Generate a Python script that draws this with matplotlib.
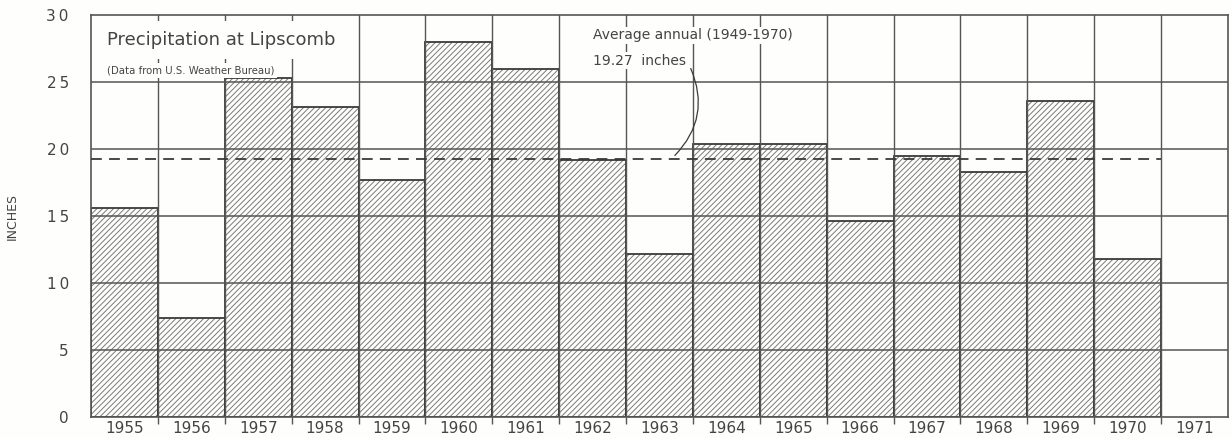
import numpy as np
import matplotlib
matplotlib.use('Agg')
import matplotlib.pyplot as plt

# Data
years = [1955, 1956, 1957, 1958, 1959, 1960, 1961, 1962, 1963,
         1964, 1965, 1966, 1967, 1968, 1969, 1970, 1971]
precip = [15.6, 7.4, 25.3, 23.1, 17.7, 28.0, 26.0, 19.2, 12.2,
          20.4, 20.4, 14.6, 19.5, 18.3, 23.6, 11.8, np.nan]
avg_annual = 19.27
y_ticks = [0, 5, 10, 15, 20, 25, 30]

ink = '#3a3a3a'
grid_c = '#555555'
txt_c = '#444444'
bg = '#fefefd'
plt.rcParams['font.family'] = ['DejaVu Sans']
plt.rcParams['hatch.linewidth'] = 0.7

fig = plt.figure(figsize=(12.32, 4.38), dpi=100, facecolor=bg)
ax = fig.add_axes([91 / 1232, 1 - 417 / 438, (1228 - 91) / 1232, (417 - 15) / 438])
ax.set_facecolor(bg)

x = np.array(years, dtype=float)
vals = np.array(precip, dtype=float)

# hatch layer
ax.bar(x, vals, width=1.0, facecolor='none', edgecolor='#7a7a7a',
       hatch='//////', linewidth=0, zorder=1)
# outline layer
ax.bar(x, vals, width=1.0, fill=False, edgecolor=ink, linewidth=1.3, zorder=2)

# grid
ax.set_xlim(years[0] - 0.5, years[-1] + 0.5)
ax.set_ylim(y_ticks[0], y_ticks[-1])
ax.set_yticks(y_ticks)
ax.set_yticklabels(['\u2009'.join(str(t)) for t in y_ticks], fontsize=11, color=txt_c)
ax.set_xticks(x)
ax.set_xticklabels([str(y) for y in years], fontsize=11, color=txt_c)
ax.set_xticks(x[:-1] + 0.5, minor=True)
ax.tick_params(axis='y', length=0, pad=16)
ax.tick_params(axis='x', which='major', length=0, pad=3)
ax.tick_params(axis='x', which='minor', length=5, width=1, color=grid_c)
for yt in y_ticks[1:-1]:
    ax.axhline(yt, color=grid_c, linewidth=1.1, zorder=3)
for xb in x[:-1] + 0.5:
    ax.axvline(xb, color=grid_c, linewidth=1.0, zorder=3)
for s in ax.spines.values():
    s.set_color(grid_c)
    s.set_linewidth(1.2)

# average line over 1955-1970
ax.hlines(avg_annual, years[0] - 0.5, years[-2] + 0.5, colors=ink,
          linestyles=(0, (6, 4)), linewidth=1.3, zorder=4)

ax.set_ylabel('INCHES', fontsize=9, color=txt_c, labelpad=20)

ax.text(0.014, 0.96, 'Precipitation at Lipscomb', transform=ax.transAxes,
        fontsize=13, color=txt_c, va='top', ha='left',
        bbox=dict(facecolor=bg, edgecolor='none', pad=7), zorder=5)
ax.text(0.014, 0.875, '(Data from U.S. Weather Bureau)', transform=ax.transAxes,
        fontsize=7.3, color=txt_c, va='top', ha='left',
        bbox=dict(facecolor=bg, edgecolor='none', pad=2), zorder=5)

ax.text(1962.0, 29.0, 'Average annual (1949-1970)', fontsize=10, color=txt_c,
        va='top', ha='left', bbox=dict(facecolor=bg, edgecolor='none', pad=1), zorder=5)
ax.text(1962.0, 27.1, '19.27  inches', fontsize=10, color=txt_c,
        va='top', ha='left', bbox=dict(facecolor=bg, edgecolor='none', pad=1), zorder=5)
ax.annotate('', xy=(1963.2, avg_annual + 0.1), xytext=(1963.45, 26.2),
            arrowprops=dict(arrowstyle='-', color=ink, lw=0.9,
                            connectionstyle='arc3,rad=-0.35'), zorder=6)

fig.savefig('out.png', dpi=100, facecolor=fig.get_facecolor())
